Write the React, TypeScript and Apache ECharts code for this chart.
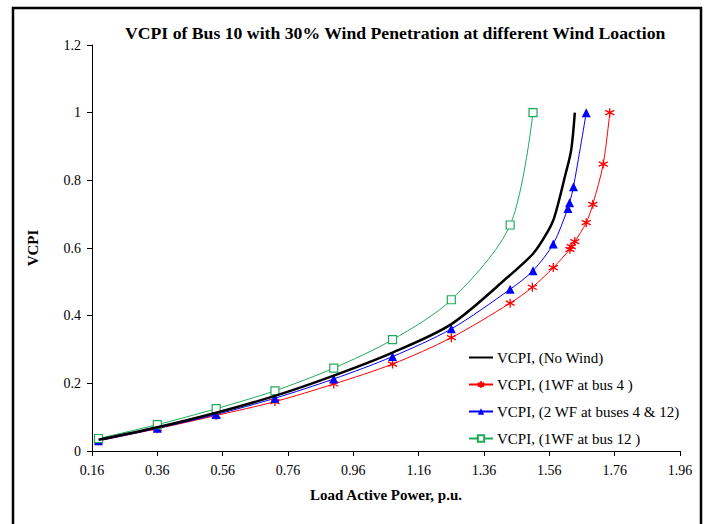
import React, { useEffect, useRef } from "react";
import * as echarts from "echarts";

const xTicks = { min: 0.16, max: 1.96, interval: 0.2 };
const yTicks = { min: 0, max: 1.2, interval: 0.2 };

const seriesNames = [
  "VCPI, (No Wind)",
  "VCPI, (1WF at bus 4 )",
  "VCPI, (2 WF at buses 4 & 12)",
  "VCPI, (1WF at bus 12 )",
];

const noWindX = [0.18, 0.36, 0.54, 0.72, 0.9, 1.08, 1.26, 1.44, 1.51, 1.55, 1.575, 1.61, 1.627, 1.638];
const noWindY = [0.033, 0.07, 0.113, 0.163, 0.223, 0.291, 0.375, 0.52, 0.583, 0.64, 0.69, 0.82, 0.89, 1.0];

const bus4X = [0.18, 0.36, 0.54, 0.72, 0.9, 1.08, 1.26, 1.44, 1.508, 1.572, 1.623, 1.627, 1.638, 1.673, 1.693, 1.725, 1.745];
const bus4Y = [0.03, 0.066, 0.105, 0.146, 0.198, 0.257, 0.335, 0.437, 0.484, 0.542, 0.596, 0.604, 0.619, 0.675, 0.729, 0.848, 1.0];

const bus4and12X = [0.18, 0.36, 0.54, 0.72, 0.9, 1.08, 1.26, 1.44, 1.51, 1.572, 1.617, 1.622, 1.634, 1.673];
const bus4and12Y = [0.03, 0.067, 0.108, 0.156, 0.213, 0.279, 0.361, 0.478, 0.533, 0.612, 0.717, 0.734, 0.781, 1.0];

const bus12X = [0.18, 0.36, 0.54, 0.72, 0.9, 1.08, 1.26, 1.44, 1.51];
const bus12Y = [0.037, 0.078, 0.125, 0.178, 0.245, 0.329, 0.447, 0.668, 1.0];

const zip = (xs: number[], ys: number[]) => xs.map((x, i) => [x, ys[i]]);

const FONT = "'Liberation Serif', 'Times New Roman', serif";
const ASTERISK = "path://M5 0 L5 10 M0.67 2.5 L9.33 7.5 M0.67 7.5 L9.33 2.5";

export default function App() {
  const ref = useRef<HTMLDivElement>(null);
  useEffect(() => {
    if (!ref.current) return;
    const chart = echarts.init(ref.current, null, { renderer: "svg" });
    chart.setOption({
      animation: false,
      backgroundColor: "#fff",
      title: {
        text: "VCPI of Bus 10 with 30% Wind Penetration at different Wind Loaction",
        left: 120,
        top: 19,
        textStyle: { fontFamily: FONT, fontSize: 17.7, fontWeight: "bold", color: "#000" },
      },
      graphic: [
        {
          type: "rect",
          shape: { x: 13, y: 8, width: 688, height: 540 },
          style: { fill: "none", stroke: "#000", lineWidth: 2.5 },
          silent: true,
        },
      ],
      grid: { left: 92, right: 27, top: 45, bottom: 73 },
      legend: {
        orient: "vertical",
        left: 468,
        top: 350,
        padding: 0,
        itemWidth: 24,
        itemHeight: 8,
        itemGap: 12,
        textStyle: { fontFamily: FONT, fontSize: 15, color: "#000", padding: [0, 0, 0, -1] },
        data: [
          { name: seriesNames[0], itemStyle: { opacity: 0 } },
          seriesNames[1],
          seriesNames[2],
          seriesNames[3],
        ],
      },
      xAxis: {
        type: "value",
        min: xTicks.min,
        max: xTicks.max,
        interval: xTicks.interval,
        name: "Load Active Power, p.u.",
        nameLocation: "middle",
        nameGap: 36,
        nameTextStyle: { fontFamily: FONT, fontSize: 15, fontWeight: "bold", color: "#000" },
        axisLine: { lineStyle: { color: "#000", width: 1 } },
        axisTick: { length: 5, lineStyle: { color: "#000" } },
        splitLine: { show: false },
        axisLabel: {
          fontFamily: FONT,
          fontSize: 14,
          color: "#000",
          margin: 12,
          formatter: (v: number) => v.toFixed(2),
        },
      },
      yAxis: {
        type: "value",
        min: yTicks.min,
        max: yTicks.max,
        interval: yTicks.interval,
        name: "VCPI",
        nameLocation: "middle",
        nameGap: 52,
        nameTextStyle: { fontFamily: FONT, fontSize: 15, fontWeight: "bold", color: "#000" },
        axisLine: { show: true, lineStyle: { color: "#000", width: 1 } },
        axisTick: { show: true, length: 5, lineStyle: { color: "#000" } },
        splitLine: { show: false },
        axisLabel: {
          fontFamily: FONT,
          fontSize: 14,
          color: "#000",
          margin: 11,
          formatter: (v: number) => String(Math.round(v * 10) / 10),
        },
      },
      series: [
        {
          name: seriesNames[0],
          type: "line",
          data: zip(noWindX, noWindY),
          smooth: 0.3,
          symbol: "none",
          lineStyle: { color: "#000", width: 2.5 },
          itemStyle: { color: "#000" },
          z: 3,
        },
        {
          name: seriesNames[1],
          type: "line",
          data: zip(bus4X, bus4Y),
          smooth: 0.3,
          symbol: ASTERISK,
          symbolSize: 9,
          lineStyle: { color: "#ff0000", width: 1 },
          itemStyle: { color: "rgba(0,0,0,0)", borderColor: "#ff0000", borderWidth: 1.3 },
          z: 2,
        },
        {
          name: seriesNames[2],
          type: "line",
          data: zip(bus4and12X, bus4and12Y),
          smooth: 0.3,
          symbol: "triangle",
          symbolSize: 9,
          lineStyle: { color: "#0000ff", width: 1 },
          itemStyle: { color: "#0000ff" },
          z: 2,
        },
        {
          name: seriesNames[3],
          type: "line",
          data: zip(bus12X, bus12Y),
          smooth: 0.3,
          symbol: "rect",
          symbolSize: 8,
          lineStyle: { color: "#1faa5a", width: 1 },
          itemStyle: { color: "#fff", borderColor: "#1faa5a", borderWidth: 1.2 },
          z: 2,
        },
      ],
    });
    return () => chart.dispose();
  }, []);
  return (
    <div
      ref={ref}
      style={{ position: "fixed", left: 0, top: 0, width: 707, height: 524 }}
    />
  );
}
